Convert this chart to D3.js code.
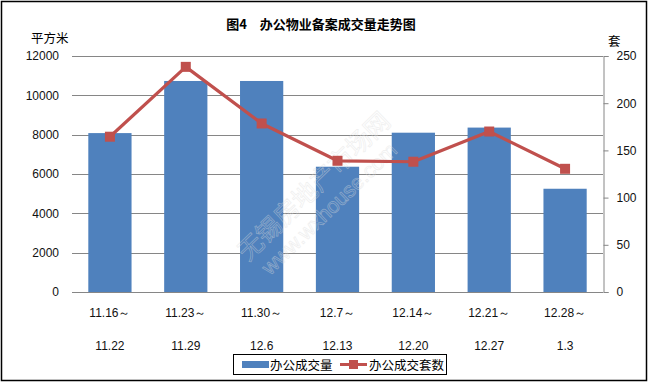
<!DOCTYPE html>
<html><head><meta charset="utf-8">
<script src="https://cdn.jsdelivr.net/npm/d3@7"></script>
<style>
body{margin:0;background:#fff;}
text{font-family:"Liberation Sans",Arial,sans-serif;}
.cjk{font-family:"Noto Sans CJK SC",sans-serif;}
</style></head>
<body>
<svg id="chart" width="649" height="383"></svg>
<script>
const title = "图4　办公物业备案成交量走势图";
const catTop = ["11.16～","11.23～","11.30～","12.7～","12.14～","12.21～","12.28～"];
const catBottom = ["11.22","11.29","12.6","12.13","12.20","12.27","1.3"];
const areaValues = [8080, 10730, 10730, 6370, 8100, 8360, 5250];
const countValues = [164.5, 238.5, 178.5, 139, 138, 170, 130.5];
const leftTicks = [0, 2000, 4000, 6000, 8000, 10000, 12000];
const rightTicks = [0, 50, 100, 150, 200, 250];
const seriesNames = ["办公成交量", "办公成交套数"];

const svg = d3.select("#chart");
const W = 649, H = 383;
const m = {left: 72, right: 603, top: 56, bottom: 292};
const blue = "#4F81BD", red = "#C0504D", grid = "#868686";

svg.append("rect").attr("x",1.5).attr("y",1.5).attr("width",W-4).attr("height",H-4)
  .attr("fill","#fff").attr("stroke","#000").attr("stroke-width",1.5);

const x = d3.scaleBand().domain(d3.range(catTop.length)).range([m.left, m.right]).paddingInner(0.43).paddingOuter(0.215);
const yL = d3.scaleLinear().domain([0,12000]).range([m.bottom, m.top]);
const yR = d3.scaleLinear().domain([0,250]).range([m.bottom, m.top]);

// gridlines
svg.append("g").selectAll("line").data(leftTicks).join("line")
  .attr("x1", m.left).attr("x2", m.right)
  .attr("y1", d => Math.round(yL(d))+0.5).attr("y2", d => Math.round(yL(d))+0.5)
  .attr("stroke", grid).attr("stroke-width",1);

// left axis labels
const gl = svg.append("g").attr("transform", `translate(${m.left},0)`)
  .call(d3.axisLeft(yL).tickValues(leftTicks).tickSize(0).tickPadding(13).tickFormat(d3.format("d")));
gl.select(".domain").remove();
gl.selectAll("text").attr("font-size",12).attr("fill","#111").attr("font-family","'Liberation Sans',Arial,sans-serif");

// right axis
const gr = svg.append("g").attr("transform", `translate(${m.right+0.5},0)`)
  .call(d3.axisRight(yR).tickValues(rightTicks).tickSize(5).tickPadding(8).tickFormat(d3.format("d")));
gr.select(".domain").attr("stroke", grid);
gr.selectAll(".tick line").attr("stroke", grid);
gr.selectAll("text").attr("font-size",12).attr("fill","#111").attr("font-family","'Liberation Sans',Arial,sans-serif");

// bars
svg.append("g").selectAll("rect").data(areaValues).join("rect")
  .attr("x", (d,i) => x(i)).attr("width", x.bandwidth())
  .attr("y", d => yL(d)).attr("height", d => yL(0) - yL(d))
  .attr("fill", blue);

// watermark (on top of bars)
const wm = svg.append("g").attr("opacity",0.45);
wm.append("text").attr("class","cjk").attr("transform","translate(248,262) rotate(-44)").attr("font-size",25)
  .attr("fill","none").attr("stroke","#dcdcdc").attr("stroke-width",0.7).text("无锡房地产市场网");
wm.append("text").attr("transform","translate(270,276) rotate(-44)").attr("font-size",21)
  .attr("fill","none").attr("stroke","#dcdcdc").attr("stroke-width",0.7).text("www.wxhouse.com");

// line
const cx = i => x(i) + x.bandwidth()/2;
svg.append("path").datum(countValues)
  .attr("d", d3.line().x((d,i) => cx(i)).y(d => yR(d)))
  .attr("fill","none").attr("stroke", red).attr("stroke-width",3.2).attr("stroke-linejoin","round");
svg.append("g").selectAll("rect").data(countValues).join("rect")
  .attr("x",(d,i)=>cx(i)-5).attr("y",d=>yR(d)-5).attr("width",10).attr("height",10)
  .attr("fill", red);

// category labels
const gc = svg.append("g");
gc.selectAll("text.t").data(catTop).join("text").attr("class","t")
  .attr("x",(d,i)=>cx(i)).attr("y",317).attr("text-anchor","middle").attr("font-size",12).attr("fill","#111").text(d=>d);
gc.selectAll("text.b").data(catBottom).join("text").attr("class","b")
  .attr("x",(d,i)=>cx(i)).attr("y",350).attr("text-anchor","middle").attr("font-size",12).attr("fill","#111").text(d=>d);

// titles
svg.append("text").attr("class","cjk").attr("x",321).attr("y",29).attr("text-anchor","middle")
  .attr("font-size",13).attr("font-weight","bold").attr("fill","#000").text(title);
svg.append("text").attr("class","cjk").attr("x",31).attr("y",43).attr("font-size",12.5).attr("fill","#000").text("平方米");
svg.append("text").attr("class","cjk").attr("x",608).attr("y",46).attr("font-size",12.5).attr("fill","#000").text("套");

// legend
const lg = svg.append("g");
lg.append("rect").attr("x",233.5).attr("y",354.5).attr("width",213).attr("height",20)
  .attr("fill","#fff").attr("stroke","#000").attr("stroke-width",1);
lg.append("rect").attr("x",242).attr("y",361).attr("width",27).attr("height",7).attr("fill",blue);
lg.append("text").attr("class","cjk").attr("x",270).attr("y",369.5).attr("font-size",12.5).attr("fill","#000").text(seriesNames[0]);
lg.append("line").attr("x1",340).attr("x2",367).attr("y1",364.5).attr("y2",364.5).attr("stroke",red).attr("stroke-width",3);
lg.append("rect").attr("x",349).attr("y",360).attr("width",9).attr("height",9).attr("fill",red);
lg.append("text").attr("class","cjk").attr("x",369).attr("y",369.5).attr("font-size",12.5).attr("fill","#000").text(seriesNames[1]);
</script>
</body></html>
